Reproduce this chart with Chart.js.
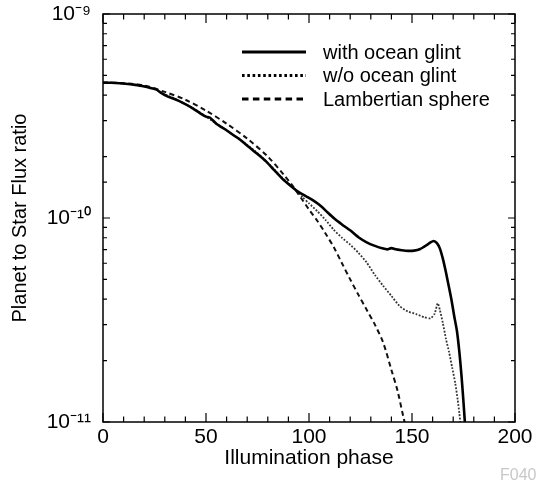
<!DOCTYPE html>
<html>
<head>
<meta charset="utf-8">
<script src="https://cdn.jsdelivr.net/npm/chart.js@4"></script>
<style>
  html, body { margin: 0; padding: 0; background: #fff; }
  #wrap { position: relative; width: 536px; height: 483px; }
</style>
</head>
<body>
<div id="wrap"><canvas id="fluxChart"></canvas></div>
<script>
// Values (flux ratio, phase in degrees)
const glintPhase = [0, 4, 8, 12, 15, 19, 23, 26, 28, 31, 35, 39, 43, 47, 50, 52, 55, 59, 63, 67, 71, 75, 79, 83, 87, 91, 95, 99, 102, 105, 108, 112, 116, 120, 124, 128, 132, 136, 138, 140, 142, 145, 148, 151, 154, 157, 159, 160.5, 162, 163.5, 165, 166.5, 168, 169.2, 170.5, 171.8, 173, 174, 175, 175.8];
const glintFlux = [4.60e-10, 4.60e-10, 4.58e-10, 4.54e-10, 4.50e-10, 4.44e-10, 4.34e-10, 4.26e-10, 4.12e-10, 3.96e-10, 3.82e-10, 3.66e-10, 3.48e-10, 3.27e-10, 3.14e-10, 3.10e-10, 2.90e-10, 2.73e-10, 2.56e-10, 2.40e-10, 2.22e-10, 2.06e-10, 1.90e-10, 1.72e-10, 1.56e-10, 1.44e-10, 1.34e-10, 1.27e-10, 1.22e-10, 1.16e-10, 1.09e-10, 1.00e-10, 9.30e-11, 8.70e-11, 8.05e-11, 7.60e-11, 7.30e-11, 7.08e-11, 7.02e-11, 7.12e-11, 7.02e-11, 6.95e-11, 6.90e-11, 6.92e-11, 7.05e-11, 7.35e-11, 7.60e-11, 7.72e-11, 7.55e-11, 7.10e-11, 6.30e-11, 5.40e-11, 4.55e-11, 3.95e-11, 3.30e-11, 2.80e-11, 2.20e-11, 1.70e-11, 1.25e-11, 9.5e-12];

const noGlintPhase = [0, 5, 10, 14, 18, 22, 26, 30, 34, 38, 42, 46, 50, 54, 58, 62, 66, 70, 74, 78, 82, 86, 90, 94, 97, 100, 104, 108, 112, 116, 120, 124, 128, 132, 136, 140, 144, 148, 152, 156, 159, 161, 162.5, 163.5, 165, 166.5, 168, 169.5, 171, 172.2, 173, 173.6];
const noGlintFlux = [4.62e-10, 4.60e-10, 4.56e-10, 4.52e-10, 4.46e-10, 4.38e-10, 4.24e-10, 4.04e-10, 3.88e-10, 3.70e-10, 3.52e-10, 3.34e-10, 3.14e-10, 2.95e-10, 2.78e-10, 2.60e-10, 2.45e-10, 2.28e-10, 2.12e-10, 1.95e-10, 1.78e-10, 1.61e-10, 1.48e-10, 1.36e-10, 1.26e-10, 1.18e-10, 1.08e-10, 9.80e-11, 8.75e-11, 8.00e-11, 7.40e-11, 6.75e-11, 6.05e-11, 5.25e-11, 4.65e-11, 4.15e-11, 3.70e-11, 3.48e-11, 3.38e-11, 3.26e-11, 3.22e-11, 3.40e-11, 3.82e-11, 3.55e-11, 3.05e-11, 2.55e-11, 2.20e-11, 1.85e-11, 1.55e-11, 1.28e-11, 1.10e-11, 9.5e-12];

const lambertPhase = [0, 10, 20, 30, 40, 50, 60, 70, 80, 88, 92, 96, 100, 104, 108, 112, 116, 120, 124, 128, 132, 136, 140, 143, 145.8, 147];
const lambertFlux = [4.62e-10, 4.58e-10, 4.46e-10, 4.15e-10, 3.80e-10, 3.36e-10, 2.90e-10, 2.45e-10, 2.00e-10, 1.62e-10, 1.44e-10, 1.26e-10, 1.10e-10, 9.70e-11, 8.40e-11, 7.20e-11, 6.00e-11, 5.00e-11, 4.20e-11, 3.55e-11, 3.00e-11, 2.45e-11, 1.80e-11, 1.42e-11, 1.06e-11, 9.5e-12];

const seriesLabels = ["with ocean glint", "w/o ocean glint", "Lambertian sphere"];
const xTicks = [0, 50, 100, 150, 200];

const toPoints = (xs, ys) => xs.map((x, i) => ({ x: x, y: ys[i] }));
const supers = { "-": "\u207B", "0": "\u2070", "1": "\u00B9", "9": "\u2079" };
const isDecade = (v) => Math.abs(Math.log10(v) - Math.round(Math.log10(v))) < 1e-6;

// inward ticks, frame, legend and stamp
const framePlugin = {
  id: "frame",
  afterDatasetsDraw(chart) {
    const { ctx, chartArea: a, scales } = chart;
    const xs = scales.x, ys = scales.y;
    ctx.save();
    ctx.strokeStyle = "#000";
    ctx.lineWidth = 1.5;
    ctx.setLineDash([]);
    ctx.strokeRect(a.left, a.top, a.right - a.left, a.bottom - a.top);

    ctx.lineWidth = 1.2;
    ctx.beginPath();
    for (let v = 0; v <= 200; v += 10) {
      const px = xs.getPixelForValue(v);
      const len = v % 50 === 0 ? 9 : 5.5;
      ctx.moveTo(px, a.bottom); ctx.lineTo(px, a.bottom - len);
      ctx.moveTo(px, a.top); ctx.lineTo(px, a.top + len);
    }
    ys.ticks.forEach((t) => {
      const py = ys.getPixelForValue(t.value);
      const len = isDecade(t.value) ? 7 : 4;
      ctx.moveTo(a.left, py); ctx.lineTo(a.left + len, py);
      ctx.moveTo(a.right, py); ctx.lineTo(a.right - len, py);
    });
    ctx.stroke();

    // legend
    const rows = [
      { y: 52, dash: [], w: 3 },
      { y: 75.5, dash: [2.6, 2.7], w: 3 },
      { y: 99, dash: [6.5, 4.4], w: 3 }
    ];
    ctx.font = "20px 'Liberation Sans', Arial, sans-serif";
    ctx.fillStyle = "#000";
    ctx.textBaseline = "middle";
    rows.forEach((r, i) => {
      ctx.lineWidth = r.w;
      ctx.setLineDash(r.dash);
      ctx.beginPath();
      ctx.moveTo(242, r.y); ctx.lineTo(306, r.y);
      ctx.stroke();
      ctx.fillText(seriesLabels[i], 323, r.y + 1);
    });

    ctx.setLineDash([]);
    ctx.font = "16px 'Liberation Sans', Arial, sans-serif";
    ctx.fillStyle = "#c8c8c8";
    ctx.textBaseline = "alphabetic";
    ctx.fillText("F040", 500, 480);
    ctx.restore();
  }
};

const ctx = document.getElementById("fluxChart").getContext("2d");
new Chart(ctx, {
  type: "line",
  data: {
    datasets: [
      {
        label: seriesLabels[0],
        data: toPoints(glintPhase, glintFlux),
        borderColor: "#000",
        borderWidth: 2.6,
        pointRadius: 0,
        tension: 0.2
      },
      {
        label: seriesLabels[1],
        data: toPoints(noGlintPhase, noGlintFlux),
        borderColor: "#333",
        borderWidth: 1.8,
        borderDash: [1.8, 1.6],
        pointRadius: 0,
        tension: 0.2
      },
      {
        label: seriesLabels[2],
        data: toPoints(lambertPhase, lambertFlux),
        borderColor: "#111",
        borderWidth: 2,
        borderDash: [5, 3.5],
        pointRadius: 0,
        tension: 0.3
      }
    ]
  },
  options: {
    responsive: true,
    maintainAspectRatio: false,
    animation: false,
    layout: { padding: { top: 14, right: 21, left: 0, bottom: 0 } },
    plugins: {
      legend: { display: false },
      tooltip: { enabled: false }
    },
    scales: {
      x: {
        type: "linear",
        min: 0,
        max: 200,
        afterBuildTicks: (s) => { s.ticks = xTicks.map((v) => ({ value: v })); },
        afterFit: (s) => { s.height = 61; s.paddingLeft = 0; s.paddingRight = 0; },
        grid: { display: false, drawTicks: false },
        border: { display: false },
        ticks: {
          padding: 3,
          color: "#000",
          font: { family: "'Liberation Sans', Arial, sans-serif", size: 21 }
        },
        title: {
          display: true,
          text: "Illumination phase",
          color: "#000",
          font: { family: "'Liberation Sans', Arial, sans-serif", size: 21 },
          padding: { top: 0, bottom: 12 }
        }
      },
      y: {
        type: "logarithmic",
        min: 1e-11,
        max: 1e-9,
        afterFit: (s) => { s.width = 103; s.paddingTop = 0; s.paddingBottom = 0; },
        grid: { display: false, drawTicks: false },
        border: { display: false },
        ticks: {
          padding: 12,
          autoSkip: false,
          color: "#000",
          font: { family: "'Liberation Sans', Arial, sans-serif", size: 21 },
          callback: (v) => {
            if (!isDecade(v)) return "";
            const e = String(Math.round(Math.log10(v)));
            return "10" + e.split("").map((c) => supers[c]).join("");
          }
        },
        title: {
          display: true,
          text: "Planet to Star Flux ratio",
          color: "#000",
          font: { family: "'Liberation Sans', Arial, sans-serif", size: 20 },
          padding: { top: 8 }
        }
      }
    }
  },
  plugins: [framePlugin]
});
</script>
</body>
</html>
